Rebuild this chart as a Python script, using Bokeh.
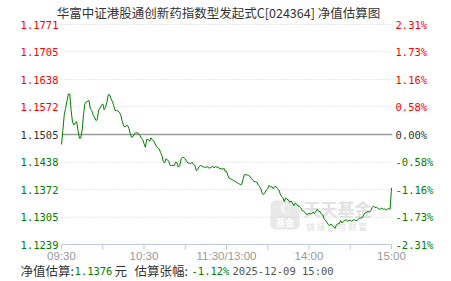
from bokeh.plotting import figure
from bokeh.models import Range1d, ColumnDataSource, BoxAnnotation
from bokeh.core.properties import value
from bokeh.embed import file_html
from bokeh.resources import INLINE

# ---- data ----
title_text = "华富中证港股通创新药指数型发起式C[024364] 净值估算图"
base_nav = 1.1505
nav_ticks = [1.1239, 1.1305, 1.1372, 1.1438, 1.1505, 1.1572, 1.1638, 1.1705, 1.1771]
pct_labels = ["-2.31%", "-1.73%", "-1.16%", "-0.58%", "0.00%", "0.58%", "1.16%", "1.73%", "2.31%"]
time_ticks = [0, 30, 60, 90, 120, 150, 180, 210, 240]
time_labels = ["09:30", "", "10:30", "", "11:30/13:00", "", "14:00", "", "15:00"]

nav = [
    1.1481, 1.1515, 1.1553, 1.1568, 1.1587, 1.1603, 1.1603, 1.1563, 1.1535, 1.1528,
    1.1533, 1.1536, 1.1515, 1.1496, 1.1496, 1.1515, 1.1553, 1.1579, 1.1584, 1.1585,
    1.1587, 1.1567, 1.1563, 1.1553, 1.1547, 1.1539, 1.1541, 1.1563, 1.1569, 1.1575,
    1.1579, 1.1565, 1.1571, 1.1583, 1.1601, 1.1601, 1.1592, 1.1585, 1.1575, 1.1563,
    1.1563, 1.1562, 1.1559, 1.1553, 1.1539, 1.1528, 1.1523, 1.1526, 1.1527, 1.1520,
    1.1507, 1.1498, 1.1500, 1.1507, 1.1509, 1.1509, 1.1508, 1.1503, 1.1496, 1.1493,
    1.1483, 1.1474, 1.1493, 1.1493, 1.1489, 1.1497, 1.1492, 1.1490, 1.1483, 1.1476,
    1.1473, 1.1470, 1.1462, 1.1454, 1.1440, 1.1436, 1.1446, 1.1444, 1.1440, 1.1430,
    1.1430, 1.1430, 1.1430, 1.1438, 1.1437, 1.1426, 1.1430, 1.1446, 1.1450, 1.1449,
    1.1446, 1.1440, 1.1436, 1.1436, 1.1434, 1.1438, 1.1432, 1.1430, 1.1418, 1.1420,
    1.1427, 1.1430, 1.1429, 1.1427, 1.1426, 1.1425, 1.1428, 1.1424, 1.1424, 1.1426,
    1.1428, 1.1424, 1.1428, 1.1426, 1.1426, 1.1422, 1.1423, 1.1420, 1.1424, 1.1416,
    1.1416, 1.1406, 1.1399, 1.1398, 1.1396, 1.1394, 1.1392, 1.1390, 1.1388, 1.1386,
    1.1384, 1.1384, 1.1396, 1.1408, 1.1408, 1.1407, 1.1406, 1.1404, 1.1399, 1.1395,
    1.1391, 1.1391, 1.1390, 1.1384, 1.1379, 1.1374, 1.1362, 1.1360, 1.1365, 1.1371,
    1.1374, 1.1382, 1.1378, 1.1379, 1.1374, 1.1379, 1.1379, 1.1374, 1.1371, 1.1362,
    1.1355, 1.1352, 1.1343, 1.1352, 1.1348, 1.1347, 1.1341, 1.1344, 1.1339, 1.1333,
    1.1339, 1.1336, 1.1332, 1.1331, 1.1328, 1.1321, 1.1320, 1.1317, 1.1312, 1.1312,
    1.1314, 1.1313, 1.1314, 1.1317, 1.1314, 1.1319, 1.1324, 1.1319, 1.1319, 1.1313,
    1.1311, 1.1301, 1.1297, 1.1293, 1.1287, 1.1285, 1.1288, 1.1285, 1.1281, 1.1278,
    1.1287, 1.1289, 1.1289, 1.1297, 1.1291, 1.1295, 1.1297, 1.1299, 1.1295, 1.1297,
    1.1297, 1.1295, 1.1298, 1.1299, 1.1297, 1.1297, 1.1301, 1.1303, 1.1303, 1.1305,
    1.1312, 1.1316, 1.1317, 1.1319, 1.1317, 1.1321, 1.1329, 1.1332, 1.1328, 1.1329,
    1.1327, 1.1324, 1.1325, 1.1327, 1.1324, 1.1325, 1.1322, 1.1325, 1.1325, 1.1325,
    1.1376,
]
minutes = list(range(len(nav)))

est_nav = "1.1376"
est_pct = "-1.12%"
est_time = "2025-12-09 15:00"

# ---- styling ----
RED = "#ff0000"
GREEN = "#008000"
DARK = "#333333"
MONO = "DejaVu Sans Mono"
CJK = "Noto Sans CJK SC"

W, H = 451, 281
FL, FR, FT, FB = 61, 391, 24, 244   # plotting-area edges (pixels)
t0, t1 = time_ticks[0], time_ticks[-1]
v0, v1 = nav_ticks[0], nav_ticks[-1]
ppx = (FR - FL) / (t1 - t0)          # pixels per minute
ppy = (FB - FT) / (v1 - v0)          # pixels per NAV unit

# frame covers the whole canvas; ranges set so the plotting area sits at FL..FR, FT..FB
x_range = Range1d(t0 - FL / ppx, t1 + (W - FR) / ppx)
y_range = Range1d(v0 - (H - FB) / ppy, v1 + FT / ppy)

p = figure(width=W, height=H, x_range=x_range, y_range=y_range,
           x_axis_type=None, y_axis_type=None,
           output_backend="svg", toolbar_location=None,
           min_border=0, min_border_left=0, min_border_right=0,
           min_border_top=0, min_border_bottom=0)
p.outline_line_color = None
p.background_fill_color = "white"
p.border_fill_color = "white"
p.xgrid.visible = False
p.ygrid.visible = False

def dx(px):
    return t0 + (px - FL) / ppx

def dy(py):
    return v1 - (py - FT) / ppy

def text(px, py, txt, color, font, size, align="left", style="normal", alpha=1.0):
    p.text(x=[dx(px)], y=[dy(py)], text=[txt], text_align=align, text_baseline="middle",
           text_color=color, text_font=value(font), text_font_size=size,
           text_font_style=style, text_alpha=alpha)

# ---- watermark (behind the line) ----
p.add_layout(BoxAnnotation(left=dx(270), right=dx(299), top=dy(200), bottom=dy(229),
                           fill_color="#e8e8e8", fill_alpha=1, line_color=None,
                           border_radius=5, level="underlay"))
text(284.5, 222, "基金", "white", CJK, "9px", align="center", style="bold")
text(284.5, 207, "◐", "#f4f4f4", "DejaVu Sans", "12px", align="center")
text(303, 208, "天天基金", "#e2e2e2", CJK, "17px", style="bold")
text(306, 225, "链 接 你 与 财 富", "#dedede", CJK, "8.5px")

# ---- grid lines (dotted), zero line, x axis ----
grid_vals = [t for t in nav_ticks[1:] if t != base_nav]
p.segment(x0=[t0] * len(grid_vals), x1=[t1 + 0.5] * len(grid_vals), y0=grid_vals, y1=grid_vals,
          line_color="#d0d0d0", line_dash="1 2", line_width=1)
p.segment(x0=[t0], x1=[t1 + 0.5], y0=[base_nav], y1=[base_nav],
          line_color="#9a9a9a", line_width=1.5)

axis_col = "#bccbdc"
p.segment(x0=[t0], x1=[t1], y0=[v0], y1=[v0], line_color=axis_col, line_width=1)
p.segment(x0=time_ticks, x1=time_ticks, y0=[v0] * len(time_ticks),
          y1=[v0 - 5 / ppy] * len(time_ticks), line_color=axis_col, line_width=1)
tl = [(t, l) for t, l in zip(time_ticks, time_labels) if l]
p.text(x=[t for t, _ in tl], y=[v0 - 11.5 / ppy] * len(tl), text=[l for _, l in tl],
       text_align="center", text_baseline="middle", text_color="#999999",
       text_font=value("Liberation Sans"), text_font_size="11.5px")

# ---- series ----
p.line(minutes, nav, line_color=GREEN, line_width=1)

# ---- y tick labels: left NAV, right percentage ----
cols = [RED if t > base_nav else (GREEN if t < base_nav else DARK) for t in nav_ticks]
src = ColumnDataSource(dict(y=nav_ticks, nav_txt=[f"{t:.4f}" for t in nav_ticks],
                            pct_txt=pct_labels, col=cols,
                            xl=[dx(58)] * len(nav_ticks), xr=[dx(395)] * len(nav_ticks)))
p.text(x="xl", y="y", text="nav_txt", source=src, text_align="right", text_baseline="middle",
       text_color="col", text_font=value(MONO), text_font_size="10.5px")
p.text(x="xr", y="y", text="pct_txt", source=src, text_align="left", text_baseline="middle",
       text_color="col", text_font=value(MONO), text_font_size="10.5px")

# ---- title ----
text(218, 12, title_text, DARK, CJK, "12.5px", align="center")

# ---- footer ----
parts = [
    (20, "净值估算:", DARK, CJK),
    (74, est_nav, GREEN, MONO),
    (114, "元", DARK, CJK),
    (134, "估算张幅:", DARK, CJK),
    (191, est_pct, GREEN, MONO),
    (232, est_time, "#555555", MONO),
]
for px, txt, col, fnt in parts:
    text(px, 270, txt, col, fnt, "12.5px" if fnt == CJK else "10.5px")

open("out.html", "w").write(file_html(p, INLINE))
